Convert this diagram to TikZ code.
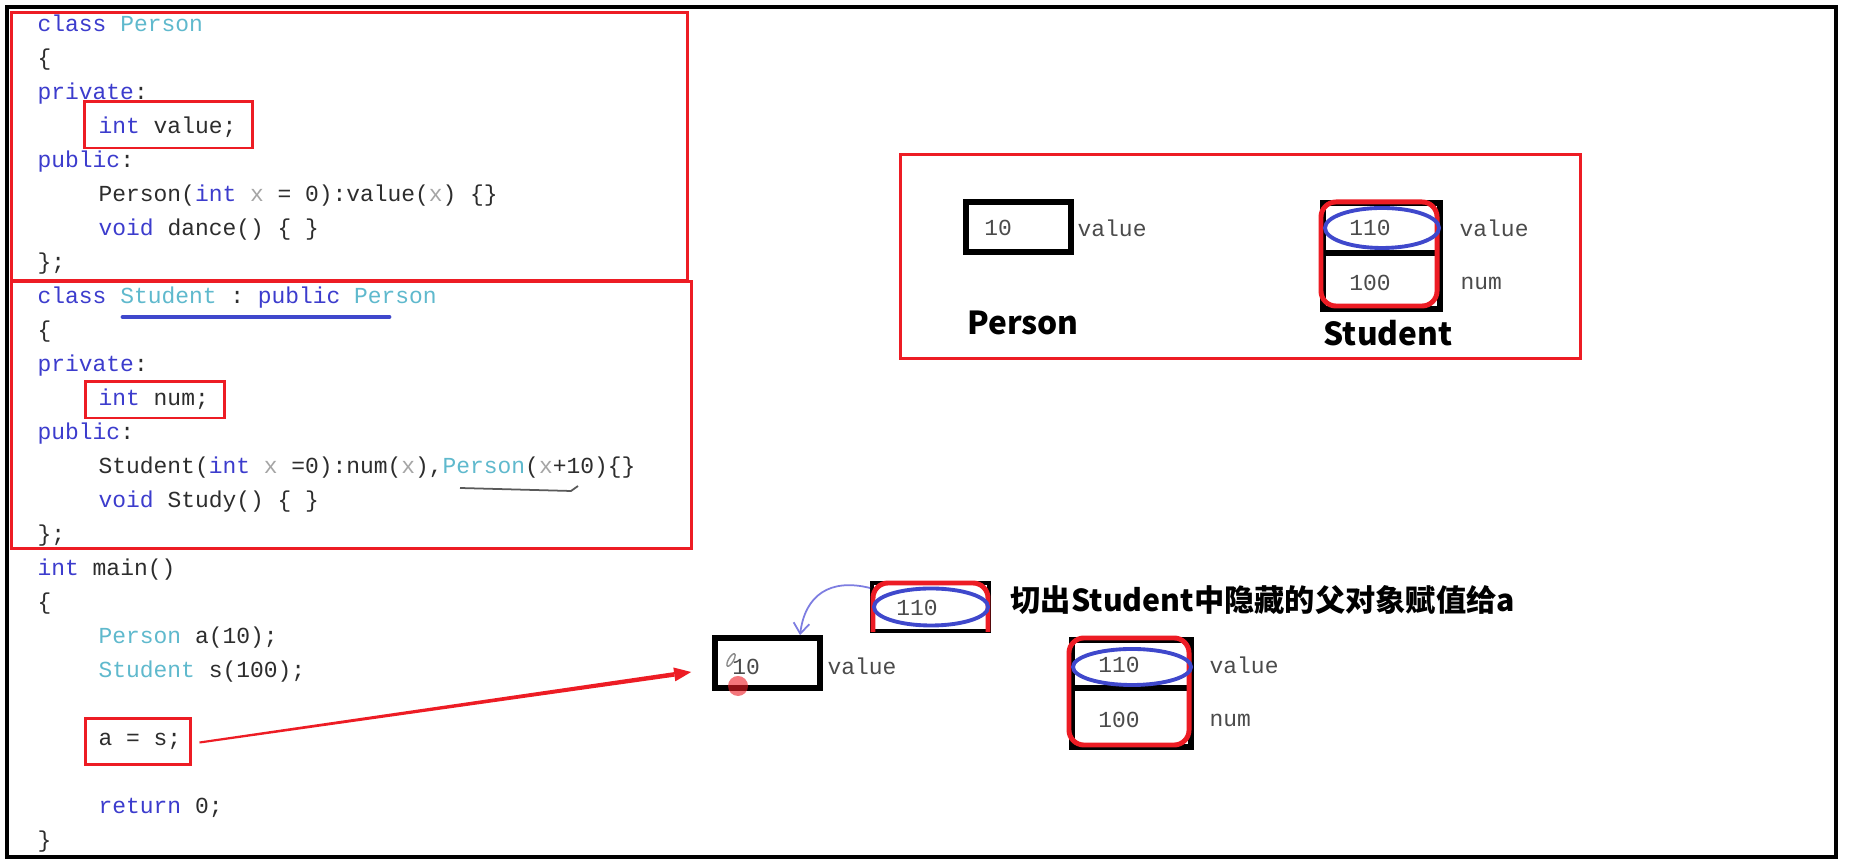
\documentclass[tikz,border=0pt]{standalone}
\usepackage{fontspec}
\usetikzlibrary{arrows.meta,calc,shapes.geometric}
\newfontfamily\codefont{Liberation Mono}
\newfontfamily\cjk{Noto Sans CJK SC}
\frenchspacing
\definecolor{hlred}{RGB}{237,28,36}
\definecolor{inkblue}{RGB}{63,72,204}
\definecolor{kwblue}{RGB}{60,60,205}
\definecolor{tyteal}{RGB}{95,185,205}
\definecolor{txtdark}{RGB}{45,45,45}
\definecolor{prmgray}{RGB}{165,165,165}
\definecolor{memgray}{RGB}{75,75,75}
\definecolor{penblue}{RGB}{125,125,225}
\newcommand{\kwd}[1]{\textcolor{kwblue}{#1}}
\newcommand{\typ}[1]{\textcolor{tyteal}{#1}}
\newcommand{\prm}[1]{\textcolor{prmgray}{#1}}
\tikzset{
  code/.style={anchor=base west, inner sep=0pt, text=txtdark, font=\codefont\fontsize{6.52}{8}\selectfont},
  memval/.style={inner sep=0pt, text=memgray, font=\codefont\fontsize{6.52}{8}\selectfont},
  memlbl/.style={memval, anchor=west},
  hlbox/.style={draw=hlred, line width=0.85pt, inner sep=0pt},
  cell/.style={draw=black, line width=1.6pt, inner sep=0pt},
  divider/.style={draw=black, line width=1.6pt},
  slot/.style={draw=inkblue, line width=1.1pt, ellipse, inner sep=0pt},
  wrap/.style={draw=hlred, line width=1.4pt, rounded corners=0.15cm, inner sep=0pt},
  heading/.style={inner sep=0pt, font=\cjk\bfseries\fontsize{9}{11}\selectfont},
}
\begin{document}
\begin{tikzpicture}[x=0.01cm, y=-0.01cm]

   \fill [white] (0,0) rectangle (1855,865);
   \useasboundingbox (0,0) rectangle (1855,865);
   \draw [line width=1.15pt] (7,7) rectangle (1836,857);

   % code
   \node (personhead) at (37,32) [code] {\kwd{class} \typ{Person}};
   \node (popen) at (37,66) [code] {\{};
   \node (ppriv) at (37,100) [code] {\kwd{private}:};
   \node (pvalue) at (98,134) [code] {\kwd{int} value;};
   \node (ppub) at (37,168) [code] {\kwd{public}:};
   \node (pctor) at (98,202) [code] {Person(\kwd{int} \prm{x} = 0):value(\prm{x}) \{\}};
   \node (pdance) at (98,236) [code] {\kwd{void} dance() \{ \}};
   \node (pclose) at (37,270) [code] {\};};

   \node (studenthead) at (37,304) [code] {\kwd{class} \typ{Student} : \kwd{public} \typ{Person}};
   \node (sopen) at (37,338) [code] {\{};
   \node (spriv) at (37,372) [code] {\kwd{private}:};
   \node (snum) at (98,406) [code] {\kwd{int} num;};
   \node (spub) at (37,440) [code] {\kwd{public}:};
   \node (sctor) at (98,474) [code] {Student(\kwd{int} \prm{x} =0):num(\prm{x}),\typ{Person}(\prm{x}+10)\{\}};
   \node (sstudy) at (98,508) [code] {\kwd{void} Study() \{ \}};
   \node (sclose) at (37,542) [code] {\};};

   \node (mainhead) at (37,576) [code] {\kwd{int} main()};
   \node (mopen) at (37,610) [code] {\{};
   \node (mperson) at (98,644) [code] {\typ{Person} a(10);};
   \node (mstudent) at (98,678) [code] {\typ{Student} s(100);};
   \node (massign) at (98,746) [code] {a = s;};
   \node (mreturn) at (98,814) [code] {\kwd{return} 0;};
   \node (mclose) at (37,848) [code] {\}};

   % highlights on the code
   \node (pclass) at (349.5,146.5) [hlbox, minimum width=6.75cm, minimum height=2.67cm] {};
   \node (sclass) at (351.5,415) [hlbox, minimum width=6.79cm, minimum height=2.66cm] {};
   \node (valbox) at (168.5,125) [hlbox, minimum width=1.67cm, minimum height=0.46cm] {};
   \node (numbox) at (155,400) [hlbox, minimum width=1.38cm, minimum height=0.36cm] {};
   \node (asgn) at (138,741.5) [hlbox, minimum width=1.04cm, minimum height=0.45cm] {};
   \draw [inkblue, line width=1.4pt, line cap=round] (123,317) -- (389,317);
   \draw [black!65, line width=0.5pt] (460,488) -- (571,491) -- (578,486);

   % object layout
   \node (layout) at (1240.5,256.5) [hlbox, minimum width=6.79cm, minimum height=2.03cm] {};

   \node (pcell) at (1018.5,227) [cell, minimum width=1.05cm, minimum height=0.50cm] {};
   \node (pten) at (998,228) [memval] {10};
   \node (pvallbl) at (1077,228) [memlbl] {value};
   \node (personlbl) at (1023,323) [heading] {Person};

   \node (scell) at (1381.5,256) [cell, minimum width=1.17cm, minimum height=1.06cm] {};
   \draw [divider] (1323,253) -- (1440,253);
   \node (swrap) at (1379,254) [wrap, minimum width=1.16cm, minimum height=1.04cm] {};
   \node (sslot) at (1382,228) [slot, minimum width=1.14cm, minimum height=0.40cm] {};
   \node (sval) at (1370,228) [memval] {110};
   \node (snumval) at (1370,283) [memval] {100};
   \node (svallbl) at (1459,228) [memlbl] {value};
   \node (snumlbl) at (1460,283) [memlbl] {num};
   \node (studentlbl) at (1388,333) [heading] {Student};

   % slicing
   \node (boxa) at (767.5,663) [cell, minimum width=1.05cm, minimum height=0.50cm] {};
   \node (aten) at (746,667) [memval] {10};
   \node (avallbl) at (827,666) [memlbl] {value};
   \draw [black!45, line width=0.4pt, rotate around={60:(731,660)}] (731,660) ellipse [x radius=0.07cm, y radius=0.025cm];
   \fill [hlred, opacity=0.6] (738,686) circle [radius=0.1cm];

   \node (slicebox) at (930.5,607) [cell, line width=1.1pt, minimum width=1.17cm, minimum height=0.48cm] {};
   \draw [hlred, line width=1.4pt, rounded corners=0.15cm] (873,632) -- (873,583) -- (988,583) -- (988,632);
   \node (sliceslot) at (931,607) [slot, minimum width=1.14cm, minimum height=0.37cm] {};
   \node (sliceval) at (917,608) [memval] {110};
   \node (note) at (1010,600) [heading, anchor=west, font=\cjk\bfseries\fontsize{8.6}{11}\selectfont] {切出Student中隐藏的父对象赋值给a};

   \node (tcell) at (1131.5,693.5) [cell, minimum width=1.19cm, minimum height=1.07cm] {};
   \draw [divider] (1072,688) -- (1191,688);
   \node (twrap) at (1129,691.5) [wrap, minimum width=1.20cm, minimum height=1.07cm] {};
   \node (tslot) at (1132,667) [slot, minimum width=1.18cm, minimum height=0.36cm] {};
   \node (tval) at (1119,665) [memval] {110};
   \node (tnumval) at (1119,720) [memval] {100};
   \node (tvallbl) at (1209,665) [memlbl] {value};
   \node (tnumlbl) at (1209,720) [memlbl] {num};

   % connectors
   \coordinate (redtail) at ([xshift=0.08cm,yshift=-0.01cm]asgn.east);
   \coordinate (redtip) at ([xshift=-0.21cm,yshift=-0.09cm]boxa.west);
   \coordinate (redbase) at ($(redtip)!0.17cm!(redtail)$);
   \fill [hlred] ($(redtail)!0.3pt!90:(redbase)$) -- ($(redbase)!0.65pt!-90:(redtail)$)
      -- ($(redbase)!0.65pt!90:(redtail)$) -- ($(redtail)!0.3pt!-90:(redbase)$) -- cycle;
   \fill [hlred] (redtip) -- ($(redbase)!0.07cm!90:(redtip)$) -- ($(redbase)!0.07cm!-90:(redtip)$) -- cycle;

   \coordinate (pentail) at ([yshift=0.19cm]slicebox.west);
   \coordinate (pentip) at ([xshift=0.325cm]boxa.north);
   \draw [penblue, line width=0.5pt, -{Straight Barb[length=3pt,width=4.5pt]}]
      (pentail) .. controls (830,578) and (805,595) .. (pentip);

\end{tikzpicture}
\end{document}
